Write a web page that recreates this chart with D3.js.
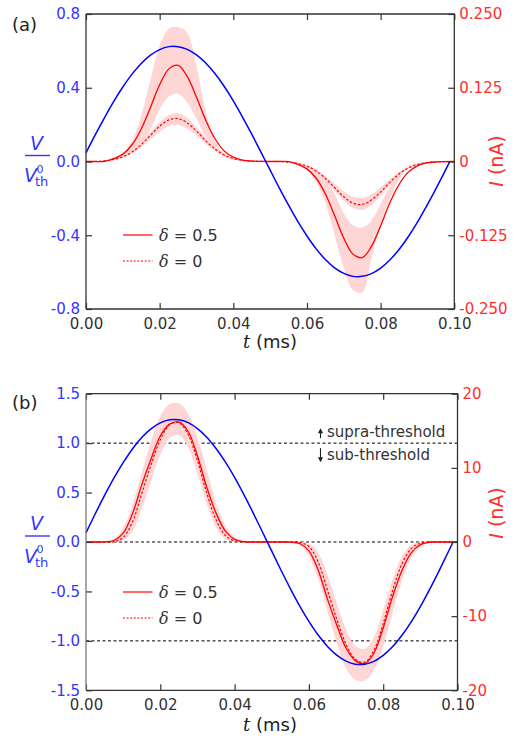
<!DOCTYPE html>
<html>
<head>
<meta charset="utf-8">
<script src="https://cdn.jsdelivr.net/npm/d3@7"></script>
<style>
    body { margin: 0; background: #fff; }
    svg { display: block; font-family: "DejaVu Sans", sans-serif; }
</style>
</head>
<body>
<script>
//time grid (ms) shared by the current curves
var tGrid = [0,0.0025,0.005,0.0075,0.01,0.0125,0.015,0.0175,0.02,0.0225,0.025,0.0275,0.03,0.0325,0.035,0.0375,0.04,0.0425,0.045,0.0475,0.05,
    0.0525,0.055,0.0575,0.06,0.0625,0.065,0.0675,0.07,0.0725,0.075,0.0775,0.08,0.0825,0.085,0.0875,0.09,0.0925,0.095,0.0975,0.1];
//time grid for the voltage curves (they stop just before 0.1)
var tBlue = [0,0.0025,0.005,0.0075,0.01,0.0125,0.015,0.0175,0.02,0.0225,0.025,0.0275,0.03,0.0325,0.035,0.0375,0.04,0.0425,0.045,0.0475,0.05,
    0.0525,0.055,0.0575,0.06,0.0625,0.065,0.0675,0.07,0.0725,0.075,0.0775,0.08,0.0825,0.085,0.0875,0.09,0.0925,0.095,0.0975,0.0988];

//panel (a): V / Vth0
var vBlueA = [0.047,0.144,0.237,0.325,0.404,0.474,0.532,0.577,0.607,0.623,0.623,0.608,0.578,0.534,0.477,0.408,0.329,0.241,0.148,0.051,
    -0.047,-0.144,-0.237,-0.325,-0.404,-0.474,-0.532,-0.577,-0.607,-0.623,-0.623,-0.608,-0.578,-0.534,-0.477,-0.408,-0.329,-0.241,-0.148,-0.051,0];
//panel (a): I (nA), delta = 0.5 and delta = 0
var iSolidA = [0,0,0.0003,0.0047,0.0125,0.0284,0.0552,0.0917,0.130,0.157,0.163,0.144,0.109,0.070,0.039,0.018,0.0074,0.0025,0.0007,0.0001,0,
    0,-0.0003,-0.0047,-0.0125,-0.0284,-0.0552,-0.0917,-0.130,-0.157,-0.163,-0.144,-0.109,-0.070,-0.039,-0.018,-0.0074,-0.0025,-0.0007,-0.0001,0];
var iDotA = [0,0,0.0013,0.0035,0.008,0.0162,0.0287,0.0443,0.0598,0.0705,0.0727,0.0653,0.0514,0.0353,0.0212,0.0111,0.0051,0.002,0.0007,0.0002,0,
    0,-0.0013,-0.0035,-0.008,-0.0162,-0.0287,-0.0443,-0.0598,-0.0705,-0.0727,-0.0653,-0.0514,-0.0353,-0.0212,-0.0111,-0.0051,-0.002,-0.0007,-0.0002,0];
//panel (a): spread bands (outer and inner edges)
var bandSolidOuterA = [0,0,0.001,0.005,0.014,0.035,0.078,0.138,0.196,0.225,0.228,0.218,0.162,0.085,0.035,0.013,0.005,0.002,0.0008,0,0,
    0,-0.001,-0.005,-0.014,-0.035,-0.07,-0.125,-0.18,-0.218,-0.222,-0.165,-0.105,-0.065,-0.03,-0.012,-0.005,-0.002,-0.0008,0,0];
var bandSolidInnerA = [0,0,0,0.002,0.006,0.014,0.03,0.055,0.088,0.110,0.115,0.100,0.072,0.042,0.02,0.008,0.003,0.001,0,0,0,
    0,0,-0.002,-0.006,-0.014,-0.03,-0.055,-0.088,-0.108,-0.112,-0.100,-0.072,-0.042,-0.02,-0.008,-0.003,-0.001,0,0,0];
var bandDotOuterA = [0,0,0.0016,0.0042,0.0095,0.019,0.033,0.050,0.067,0.079,0.082,0.074,0.058,0.040,0.024,0.0128,0.006,0.0024,0.0008,0.0002,0,
    0,-0.0016,-0.0042,-0.0095,-0.019,-0.033,-0.050,-0.067,-0.079,-0.082,-0.074,-0.058,-0.040,-0.024,-0.0128,-0.006,-0.0024,-0.0008,-0.0002,0];
var bandDotInnerA = [0,0,0.001,0.0028,0.0066,0.0135,0.0242,0.0375,0.0505,0.0598,0.0617,0.0555,0.0437,0.030,0.018,0.0094,0.0043,0.0017,0.0006,0.0001,0,
    0,-0.001,-0.0028,-0.0066,-0.0135,-0.0242,-0.0375,-0.0505,-0.0598,-0.0617,-0.0555,-0.0437,-0.030,-0.018,-0.0094,-0.0043,-0.0017,-0.0006,-0.0001,0];

//panel (b): V / Vth0
var vBlueB = [0.093,0.286,0.471,0.645,0.802,0.941,1.056,1.144,1.205,1.236,1.236,1.207,1.147,1.060,0.946,0.810,0.653,0.479,0.294,0.101,
    -0.093,-0.286,-0.471,-0.645,-0.802,-0.941,-1.056,-1.144,-1.205,-1.236,-1.236,-1.207,-1.147,-1.060,-0.946,-0.810,-0.653,-0.479,-0.294,-0.101,0];
//panel (b): I (nA)
var iSolidB = [0,0,0.02,0.2,1.2,3.8,7.7,11.2,14.3,15.9,16.2,14.9,11.6,7.4,3.9,1.5,0.35,0.04,0,0,0,
    0,-0.02,-0.2,-1.2,-3.8,-7.7,-11.2,-14.3,-16.0,-16.4,-15.0,-11.6,-7.4,-3.9,-1.5,-0.35,-0.04,0,0,0];
var iDotB = [0,0,0,0.05,0.6,2.7,6.5,10.4,13.8,15.8,16.1,14.5,11.0,6.6,3.0,0.9,0.15,0,0,0,0,
    0,0,-0.05,-0.6,-2.7,-6.5,-10.4,-13.8,-15.8,-16.2,-14.6,-11.0,-6.6,-3.0,-0.9,-0.15,0,0,0,0];
var bandOuterB = [0,0,0.05,0.4,1.9,5.0,9.3,13.6,17.0,18.6,18.7,17.3,14.1,9.7,5.3,2.2,0.7,0.15,0.02,0,0,
    0,-0.05,-0.4,-1.9,-5.0,-9.3,-13.6,-17.0,-18.6,-18.7,-17.3,-14.1,-9.7,-5.3,-2.2,-0.7,-0.15,-0.02,0,0];
var bandInnerB = [0,0,0,0,0.2,1.4,4.4,8.2,11.8,14.0,14.4,12.8,9.2,5.1,2.0,0.4,0.05,0,0,0,0,
    0,0,0,-0.2,-1.4,-4.4,-8.2,-11.8,-14.0,-14.4,-12.8,-9.2,-5.1,-2.0,-0.4,-0.05,0,0,0,0];

//ticks
var xTicks = [0, 0.02, 0.04, 0.06, 0.08, 0.1];
var vTicksA = [-0.8, -0.4, 0, 0.4, 0.8];
var iTicksA = [-0.25, -0.125, 0, 0.125, 0.25];
var vTicksB = [-1.5, -1, -0.5, 0, 0.5, 1, 1.5];
var iTicksB = [-20, -10, 0, 10, 20];
var thresholdLevels = [1, 0, -1];
var legendLabels = ["0.5", "0"];

var blue = "#0000ff", blueText = "#3535ff", red = "#ff0000", redText = "#ff2e2e",
    pink = "#ffd6d6", axisColor = "#333";

window.onload = setChart();

function setChart(){
    var svg = d3.select("body")
        .append("svg")
        .attr("width", 523)
        .attr("height", 738);

    //top panel
    drawPanel(svg, {
        label: "(a)", labelY: 31,
        left: 86, right: 454.3, top: 14, bottom: 309,
        vDomain: [-0.8, 0.8], iDomain: [-0.25, 0.25],
        vTicks: vTicksA, iTicks: iTicksA,
        vFormat: function(d){ return d.toFixed(1); },
        iFormat: function(d){ return d === 0 ? "0" : d.toFixed(3); },
        vBlue: vBlueA, iSolid: iSolidA, iDot: iDotA,
        bands: [[bandSolidOuterA, bandSolidInnerA], [bandDotOuterA, bandDotInnerA]],
        legendY: 235, iLabelY: 161, xLabelY: 348,
        leftSpine: axisColor
    });

    //bottom panel
    var b = drawPanel(svg, {
        label: "(b)", labelY: 409,
        left: 86, right: 457.5, top: 393.7, bottom: 690.3,
        vDomain: [-1.5, 1.5], iDomain: [-20, 20],
        vTicks: vTicksB, iTicks: iTicksB,
        vFormat: function(d){ return d.toFixed(1); },
        iFormat: function(d){ return String(d); },
        vBlue: vBlueB, iSolid: iSolidB, iDot: iDotB,
        bands: [[bandOuterB, bandInnerB]],
        legendY: 592, iLabelY: 513, xLabelY: 731,
        leftSpine: "#777",
        dashed: thresholdLevels
    });

    //threshold annotation
    var yOne = b.y(1);
    drawArrow(svg, 320.5, yOne - 5, yOne - 15);
    drawArrow(svg, 320.5, yOne + 5, yOne + 19);
    svg.append("text")
        .attr("x", 327).attr("y", yOne - 6)
        .attr("font-size", 15).attr("fill", "#333")
        .text("supra-threshold");
    svg.append("text")
        .attr("x", 327).attr("y", yOne + 17)
        .attr("font-size", 15).attr("fill", "#333")
        .text("sub-threshold");
};

//draws one panel of the figure, returns its scales
function drawPanel(svg, p){
    var x = d3.scaleLinear().domain([0, 0.1]).range([p.left, p.right]);
    var y = d3.scaleLinear().domain(p.vDomain).range([p.bottom, p.top]);
    var yI = d3.scaleLinear().domain(p.iDomain).range([p.bottom, p.top]);

    var g = svg.append("g");

    //dashed reference lines
    if (p.dashed){
        g.selectAll(".ref")
            .data(p.dashed)
            .enter()
            .append("line")
            .attr("x1", p.left).attr("x2", p.right)
            .attr("y1", function(d){ return y(d); })
            .attr("y2", function(d){ return y(d); })
            .attr("stroke", "#000")
            .attr("stroke-width", 1)
            .attr("stroke-dasharray", "3,2.5");
    }

    //spread bands
    p.bands.forEach(function(band){
        var area = d3.area()
            .x(function(d, i){ return x(tGrid[i]); })
            .y0(function(d, i){ return yI(band[0][i]); })
            .y1(function(d, i){ return yI(band[1][i]); })
            .curve(d3.curveCatmullRom.alpha(0.5));
        g.append("path")
            .datum(tGrid)
            .attr("d", area)
            .attr("fill", pink)
            .attr("stroke", "none");
    });

    var iLine = d3.line()
        .x(function(d, i){ return x(tGrid[i]); })
        .y(function(d){ return yI(d); })
        .curve(d3.curveCatmullRom.alpha(0.5));

    g.append("path")
        .datum(p.iDot)
        .attr("d", iLine)
        .attr("fill", "none")
        .attr("stroke", red)
        .attr("stroke-width", 1.2)
        .attr("stroke-dasharray", "2.5,1.8");

    g.append("path")
        .datum(p.iSolid)
        .attr("d", iLine)
        .attr("fill", "none")
        .attr("stroke", red)
        .attr("stroke-width", 1.3);

    //voltage curve
    var vLine = d3.line()
        .x(function(d, i){ return x(tBlue[i]); })
        .y(function(d){ return y(d); })
        .curve(d3.curveCatmullRom.alpha(0.5));

    g.append("path")
        .datum(p.vBlue)
        .attr("d", vLine)
        .attr("fill", "none")
        .attr("stroke", blue)
        .attr("stroke-width", 1.5);

    //axes with inward ticks
    var bottomAxis = g.append("g")
        .attr("transform", "translate(0," + p.bottom + ")")
        .call(d3.axisBottom(x).tickValues(xTicks).tickSizeInner(-6).tickSizeOuter(0)
            .tickPadding(9).tickFormat(function(d){ return d.toFixed(2); }));
    var topAxis = g.append("g")
        .attr("transform", "translate(0," + p.top + ")")
        .call(d3.axisTop(x).tickValues(xTicks).tickSizeInner(-6).tickSizeOuter(0).tickFormat(""));
    var leftAxis = g.append("g")
        .attr("transform", "translate(" + p.left + ",0)")
        .call(d3.axisLeft(y).tickValues(p.vTicks).tickSizeInner(-6).tickSizeOuter(0)
            .tickPadding(6).tickFormat(p.vFormat));
    var rightAxis = g.append("g")
        .attr("transform", "translate(" + p.right + ",0)")
        .call(d3.axisRight(yI).tickValues(p.iTicks).tickSizeInner(-6).tickSizeOuter(0)
            .tickPadding(5).tickFormat(p.iFormat));

    [bottomAxis, topAxis, leftAxis, rightAxis].forEach(function(a){
        a.select(".domain").remove();
        a.selectAll(".tick line").attr("stroke", axisColor).attr("stroke-width", 1.2);
        a.selectAll("text").attr("font-size", 15).attr("font-family", "DejaVu Sans");
    });
    bottomAxis.selectAll("text").attr("fill", "#333");
    leftAxis.selectAll("text").attr("fill", blueText);
    rightAxis.selectAll("text").attr("fill", redText);

    //frame
    g.append("path")
        .attr("d", "M" + p.left + "," + p.top + "H" + p.right + "V" + p.bottom + "H" + p.left)
        .attr("fill", "none").attr("stroke", axisColor).attr("stroke-width", 1.3);
    g.append("line")
        .attr("x1", p.left).attr("x2", p.left).attr("y1", p.top).attr("y2", p.bottom)
        .attr("stroke", p.leftSpine).attr("stroke-width", 1.3);

    //panel label
    svg.append("text")
        .attr("x", 12).attr("y", p.labelY)
        .attr("font-size", 18).attr("fill", "#222")
        .text(p.label);

    //x axis label
    var xl = svg.append("text")
        .attr("x", 270).attr("y", p.xLabelY)
        .attr("text-anchor", "middle")
        .attr("font-size", 18).attr("fill", "#222");
    xl.append("tspan").attr("font-family", "DejaVu Serif").attr("font-style", "italic").text("t");
    xl.append("tspan").text(" (ms)");

    //left axis label: V over V_th^0
    var y0 = y(0);
    svg.append("text")
        .attr("x", 36.5).attr("y", y0 - 12)
        .attr("text-anchor", "middle")
        .attr("font-size", 19).attr("font-style", "italic").attr("fill", blueText)
        .text("V");
    svg.append("line")
        .attr("x1", 25).attr("x2", 50)
        .attr("y1", y0 - 6).attr("y2", y0 - 6)
        .attr("stroke", blueText).attr("stroke-width", 1.4);
    var den = svg.append("text")
        .attr("x", 24).attr("y", y0 + 20.5)
        .attr("font-size", 19).attr("font-style", "italic").attr("fill", blueText);
    den.append("tspan").text("V");
    den.append("tspan")
        .attr("x", 36.5).attr("dy", -9.5)
        .attr("font-size", 11).attr("font-style", "normal")
        .text("0");
    den.append("tspan")
        .attr("x", 35).attr("dy", 13.5)
        .attr("font-size", 13).attr("font-style", "normal")
        .text("th");

    //right axis label
    var il = svg.append("text")
        .attr("transform", "translate(503," + p.iLabelY + ") rotate(-90)")
        .attr("text-anchor", "middle")
        .attr("font-size", 19).attr("fill", redText);
    il.append("tspan").attr("font-style", "italic").text("I");
    il.append("tspan").text(" (nA)");

    //legend
    var leg = svg.append("g").attr("transform", "translate(0," + p.legendY + ")");
    leg.selectAll(".legline")
        .data(legendLabels)
        .enter()
        .append("line")
        .attr("x1", 123).attr("x2", 152.5)
        .attr("y1", function(d, i){ return i * 26; })
        .attr("y2", function(d, i){ return i * 26; })
        .attr("stroke", red)
        .attr("stroke-width", 1.2)
        .attr("stroke-dasharray", function(d, i){ return i == 1 ? "2,1.6" : null; });
    var lt = leg.selectAll(".legtext")
        .data(legendLabels)
        .enter()
        .append("text")
        .attr("x", 159)
        .attr("y", function(d, i){ return i * 26 + 6; })
        .attr("font-size", 16).attr("fill", "#333");
    lt.append("tspan").attr("font-family", "DejaVu Serif").attr("font-style", "italic").text("δ");
    lt.append("tspan").text(function(d){ return " = " + d; });

    return {x: x, y: y, yI: yI};
};

//small vertical arrow from y1 to y2 (head at y2)
function drawArrow(svg, x, y1, y2){
    var dir = y2 < y1 ? 1 : -1;
    svg.append("line")
        .attr("x1", x).attr("x2", x).attr("y1", y1).attr("y2", y2 + dir * 3)
        .attr("stroke", "#222").attr("stroke-width", 1.1);
    svg.append("path")
        .attr("d", "M" + x + "," + y2 + "L" + (x - 2.6) + "," + (y2 + dir * 5) + "L" + (x + 2.6) + "," + (y2 + dir * 5) + "Z")
        .attr("fill", "#222");
};
</script>
</body>
</html>
